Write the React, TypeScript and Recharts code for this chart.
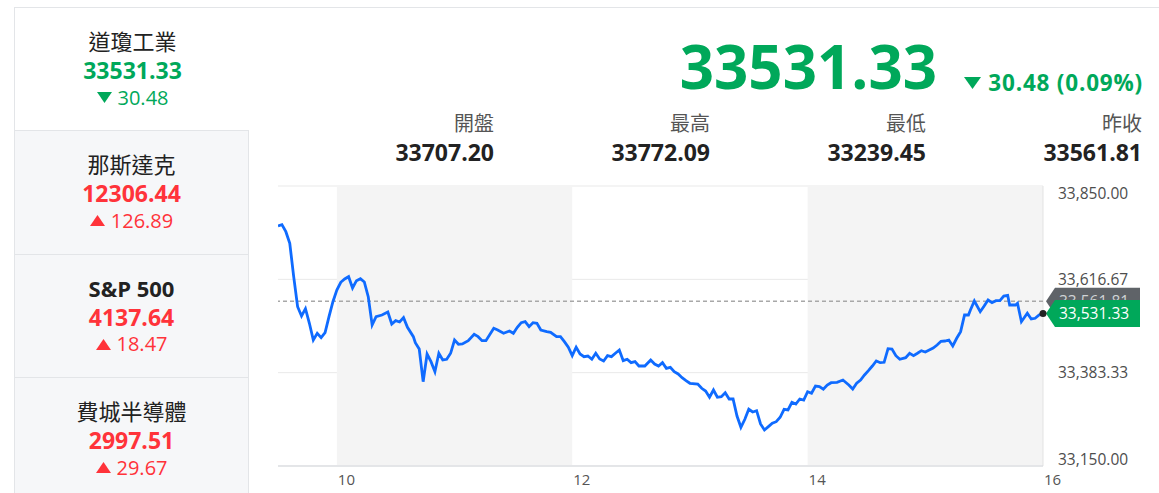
import React from "react";
import {
  LineChart,
  Line,
  XAxis,
  YAxis,
  CartesianGrid,
  ReferenceArea,
  ReferenceLine,
  ReferenceDot,
} from "recharts";

const FONT = "'Open Sans', 'Noto Sans CJK TC', sans-serif";
const GREEN = "#00a85a";
const RED = "#ff333a";

// left side index list
const indexNames = ["道瓊工業", "那斯達克", "S&P 500", "費城半導體"];
const indexValues = ["33531.33", "12306.44", "4137.64", "2997.51"];
const indexChanges = ["30.48", "126.89", "18.47", "29.67"];
const indexUp = [false, true, true, true];

// header stats
const lastPrice = 33531.33;
const changeText = "30.48 (0.09%)";
const statLabels = ["開盤", "最高", "最低", "昨收"];
const statValues = ["33707.20", "33772.09", "33239.45", "33561.81"];
const prevClose = 33561.81;

// intraday series
const times = [
  "09:30", "09:32", "09:34", "09:36", "09:38", "09:40", "09:42", "09:44", "09:46", "09:48",
  "09:50", "09:52", "09:54", "09:56", "09:58", "10:00", "10:02", "10:04", "10:06", "10:08",
  "10:10", "10:12", "10:14", "10:16", "10:18", "10:20", "10:23", "10:26", "10:28", "10:30",
  "10:32", "10:34", "10:36", "10:39", "10:40", "10:42", "10:44", "10:46", "10:48", "10:50",
  "10:52", "10:54", "10:56", "10:58", "11:00", "11:02", "11:04", "11:07", "11:10", "11:12",
  "11:14", "11:16", "11:20", "11:22", "11:25", "11:28", "11:30", "11:32", "11:34", "11:36",
  "11:38", "11:40", "11:42", "11:44", "11:47", "11:49", "11:52", "11:54", "11:56", "11:58",
  "12:00", "12:02", "12:04", "12:06", "12:08", "12:10", "12:12", "12:14", "12:16", "12:18",
  "12:20", "12:22", "12:24", "12:26", "12:28", "12:30", "12:32", "12:34", "12:37", "12:40",
  "12:42", "12:44", "12:46", "12:48", "12:50", "12:52", "12:54", "12:56", "12:58", "13:00",
  "13:04", "13:06", "13:08", "13:10", "13:12", "13:14", "13:16", "13:18", "13:20", "13:22",
  "13:24", "13:26", "13:28", "13:30", "13:32", "13:34", "13:36", "13:38", "13:40", "13:42",
  "13:44", "13:46", "13:48", "13:50", "13:52", "13:54", "13:56", "13:58", "14:00", "14:02",
  "14:04", "14:06", "14:08", "14:10", "14:12", "14:15", "14:18", "14:21", "14:23", "14:25",
  "14:27", "14:29", "14:31", "14:33", "14:35", "14:37", "14:39", "14:41", "14:43", "14:45",
  "14:47", "14:50", "14:52", "14:54", "14:56", "14:58", "15:00", "15:02", "15:04", "15:06",
  "15:08", "15:10", "15:12", "15:14", "15:16", "15:18", "15:20", "15:22", "15:23", "15:25",
  "15:28", "15:30", "15:32", "15:34", "15:36", "15:38", "15:40", "15:42", "15:43", "15:46",
  "15:47", "15:49", "15:52", "15:54", "15:56", "15:58", "16:00",
];

const prices = [
  33750.0, 33753.3, 33735.8, 33706.8, 33623.3, 33548.3, 33525.0, 33543.3, 33506.8, 33465.0,
  33481.8, 33470.8, 33483.3, 33523.3, 33560.8, 33590.0, 33609.3, 33617.5, 33623.3, 33595.0,
  33613.3, 33618.3, 33610.0, 33573.3, 33502.5, 33523.3, 33527.5, 33535.0, 33505.0, 33513.3,
  33510.0, 33520.8, 33496.8, 33473.3, 33458.3, 33442.5, 33360.8, 33430.0, 33410.8, 33385.8,
  33431.8, 33415.0, 33416.8, 33431.8, 33465.0, 33454.3, 33455.0, 33463.3, 33479.3, 33473.3,
  33463.3, 33463.3, 33494.3, 33490.0, 33481.8, 33487.5, 33481.8, 33496.8, 33508.3, 33510.8,
  33498.3, 33508.3, 33506.8, 33490.0, 33485.8, 33484.3, 33473.3, 33473.3, 33460.8, 33446.8,
  33425.8, 33446.8, 33430.0, 33423.3, 33425.0, 33416.8, 33431.8, 33417.5, 33412.5, 33425.8,
  33423.3, 33431.8, 33440.0, 33413.3, 33416.8, 33408.3, 33410.8, 33400.0, 33400.0, 33415.0,
  33405.0, 33400.0, 33408.3, 33394.3, 33396.8, 33385.8, 33380.0, 33370.8, 33363.3, 33356.8,
  33355.0, 33344.3, 33337.5, 33321.8, 33340.0, 33321.8, 33323.3, 33333.3, 33317.5, 33317.5,
  33275.0, 33246.8, 33266.8, 33291.8, 33285.0, 33288.3, 33255.0, 33240.0, 33248.3, 33256.8,
  33260.8, 33271.8, 33291.8, 33290.0, 33309.3, 33305.0, 33317.5, 33315.0, 33335.8, 33331.8,
  33350.0, 33348.3, 33341.8, 33352.5, 33358.3, 33359.3, 33365.0, 33352.5, 33342.5, 33356.8,
  33365.0, 33377.5, 33388.3, 33400.0, 33412.5, 33408.3, 33409.3, 33443.3, 33442.5, 33425.8,
  33416.8, 33420.8, 33431.8, 33425.8, 33431.8, 33438.3, 33435.0, 33440.0, 33445.0, 33452.5,
  33461.8, 33462.5, 33465.0, 33450.0, 33469.3, 33485.8, 33527.5, 33527.5, 33540.0, 33562.5,
  33535.8, 33550.0, 33565.0, 33558.3, 33563.3, 33563.3, 33575.0, 33576.8, 33552.5, 33552.5,
  33556.8, 33510.8, 33531.8, 33517.5, 33519.3, 33527.5, 33531.33,
];

const xTicks = [10, 12, 14, 16];
const yTicks = [33150, 33383.33, 33616.67, 33850];
const sessionBands = [
  [10, 12],
  [14, 16],
];

const toHours = (s: string) => {
  const [h, m] = s.split(":").map(Number);
  return h + m / 60;
};

const data = times.map((t, i) => ({ t: toHours(t), price: prices[i] }));

const fmt = (v: number) =>
  v.toLocaleString("en-US", { minimumFractionDigits: 2, maximumFractionDigits: 2 });

function Triangle({ up, color, w, h }: { up: boolean; color: string; w: number; h: number }) {
  const pts = up ? `0,${h} ${w},${h} ${w / 2},0` : `0,0 ${w},0 ${w / 2},${h}`;
  return (
    <svg width={w} height={h} style={{ display: "inline-block", verticalAlign: "middle" }}>
      <polygon points={pts} fill={color} />
    </svg>
  );
}

function YTick(props: any) {
  const { x, y, payload } = props;
  let dy = 0;
  if (payload.value === yTicks[yTicks.length - 1]) dy = 7;
  if (payload.value === yTicks[0]) dy = -7;
  return (
    <text x={x} y={y + dy} dy="0.36em" fill="#4d4d4d" fontSize={15.5} fontFamily={FONT} textAnchor="start">
      {fmt(payload.value)}
    </text>
  );
}

function XTick(props: any) {
  const { x, y, payload } = props;
  return (
    <text x={x + 1} y={y} dy="0.72em" fill="#555" fontSize={15} fontFamily={FONT} textAnchor="start">
      {payload.value}
    </text>
  );
}

function priceTag(color: string, textColor: string, value: number) {
  return (props: any) => {
    const vb = props.viewBox || {};
    const x0 = vb.x + vb.width + 3;
    const yc = vb.y;
    const h = 27;
    const w = 94;
    const d = `M${x0},${yc} L${x0 + 9},${yc - h / 2} L${x0 + w},${yc - h / 2} L${x0 + w},${yc + h / 2} L${x0 + 9},${yc + h / 2} Z`;
    return (
      <g>
        <path d={d} fill={color} />
        <text x={x0 + 13} y={yc} dy="0.36em" fill={textColor} fontSize={15.5} fontFamily={FONT}>
          {fmt(value)}
        </text>
      </g>
    );
  };
}

function IndexCell({ i }: { i: number }) {
  const active = i === 0;
  const color = indexUp[i] ? RED : GREEN;
  const top = 7 + i * 123.3;
  const latin = /[A-Za-z]/.test(indexNames[i]);
  return (
    <div
      style={{
        position: "absolute",
        left: 14,
        top,
        width: active ? 236 : 235,
        height: 123.3,
        background: active ? "#fff" : "#f6f7f9",
        borderLeft: "1px solid #e3e5e8",
        borderRight: active ? "none" : "1px solid #e3e5e8",
        borderTop: "1px solid #e3e5e8",
        boxSizing: "border-box",
        textAlign: "center",
      }}
    >
      <div
        style={{
          position: "absolute",
          left: 0,
          right: 0,
          top: 19,
          fontSize: 22,
          lineHeight: "28px",
          color: "#222",
          fontWeight: latin ? 700 : 400,
        }}
      >
        {indexNames[i]}
      </div>
      <div
        style={{
          position: "absolute",
          left: 0,
          right: 0,
          top: 48,
          fontSize: 23,
          lineHeight: "28px",
          color,
          fontWeight: 700,
        }}
      >
        {indexValues[i]}
      </div>
      <div
        style={{
          position: "absolute",
          left: 0,
          right: 0,
          top: 75,
          fontSize: 20,
          lineHeight: "26px",
          color,
        }}
      >
        <Triangle up={indexUp[i]} color={color} w={15} h={11} />
        <span style={{ marginLeft: 6, verticalAlign: "middle" }}>{indexChanges[i]}</span>
      </div>
    </div>
  );
}

export default function App() {
  return (
    <div
      style={{
        position: "absolute",
        left: 0,
        top: 0,
        width: 1159,
        height: 493,
        background: "#fff",
        fontFamily: FONT,
        overflow: "hidden",
      }}
    >
      <div style={{ position: "absolute", left: 14, top: 7, right: 0, height: 1, background: "#e3e5e8" }} />
      {indexNames.map((_, i) => (
        <IndexCell key={i} i={i} />
      ))}

      {/* header */}
      <div
        style={{
          position: "absolute",
          right: 1159 - 937,
          top: 27,
          fontSize: 60,
          lineHeight: "78px",
          fontWeight: 700,
          color: GREEN,
        }}
      >
        {lastPrice.toFixed(2)}
      </div>
      <div
        style={{
          position: "absolute",
          right: 1159 - 1143,
          top: 66,
          fontSize: 22.5,
          lineHeight: "30px",
          fontWeight: 700,
          color: GREEN,
          whiteSpace: "nowrap",
          letterSpacing: 0.8,
        }}
      >
        <Triangle up={false} color={GREEN} w={17} h={12} />
        <span style={{ marginLeft: 7, verticalAlign: "middle" }}>{changeText}</span>
      </div>
      {statLabels.map((lab, i) => (
        <div
          key={lab}
          style={{ position: "absolute", right: 1159 - (494 + i * 216), top: 110, textAlign: "right" }}
        >
          <div style={{ fontSize: 20, lineHeight: "28px", color: "#555" }}>{lab}</div>
          <div style={{ fontSize: 23, lineHeight: "28px", fontWeight: 700, color: "#222" }}>{statValues[i]}</div>
        </div>
      ))}

      <div style={{ position: "absolute", left: 0, top: 0 }}>
        <LineChart
          width={1159}
          height={493}
          data={data}
          margin={{ top: 186, right: 6, bottom: 2, left: 278 }}
        >
          {sessionBands.map(([a, b]) => (
            <ReferenceArea key={a} x1={a} x2={b} fill="#f4f4f4" fillOpacity={1} stroke="none" ifOverflow="visible" />
          ))}
          <CartesianGrid vertical={false} stroke="#e9e9e9" />
          <XAxis
            dataKey="t"
            type="number"
            domain={[9.5, 16]}
            ticks={xTicks}
            allowDataOverflow
            height={25}
            tickLine={false}
            tickSize={0}
            tickMargin={8}
            axisLine={{ stroke: "#d4d7dc" }}
            tick={<XTick />}
          />
          <YAxis
            orientation="right"
            domain={[33150, 33850]}
            ticks={yTicks}
            allowDataOverflow
            width={110}
            tickLine={false}
            axisLine={false}
            tickSize={0}
            tickMargin={15}
            tick={<YTick />}
          />
          <ReferenceLine x={16} stroke="#e3e3e3" />
          <ReferenceLine
            y={prevClose}
            stroke="#a8a8a8"
            strokeWidth={1.5}
            strokeDasharray="4 3"
            label={priceTag("#5f6368", "#d0d3d6", prevClose)}
          />
          <Line
            type="linear"
            dataKey="price"
            stroke="#0f6bff"
            strokeWidth={2.8}
            dot={false}
            isAnimationActive={false}
          />
          <ReferenceLine
            y={lastPrice}
            stroke="none"
            strokeOpacity={0}
            label={priceTag(GREEN, "#ffffff", lastPrice)}
          />
          <ReferenceDot x={16} y={lastPrice} r={3.5} fill="#222" stroke="none" ifOverflow="visible" />
        </LineChart>
      </div>
    </div>
  );
}
